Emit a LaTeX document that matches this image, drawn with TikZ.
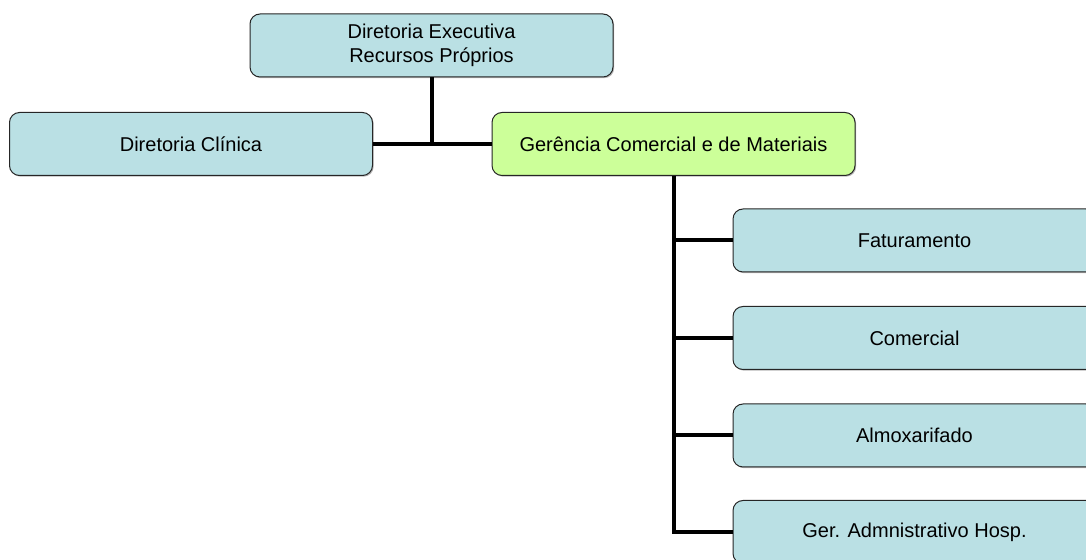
\documentclass[tikz,border=0pt]{standalone}
\usepackage{fontspec}
\setmainfont{Liberation Sans}
\usetikzlibrary{shadows}
\definecolor{boxblue}{RGB}{186,224,228}
\definecolor{boxgreen}{RGB}{204,255,153}
\begin{document}
\begin{tikzpicture}[
    x=0.5pt, y=-0.5pt,
    box/.style={rectangle, draw=black!85, line width=0.5pt, rounded corners=5pt, fill=boxblue,
        minimum width=181.5pt, minimum height=31.5pt, align=center, font=\fontsize{10}{12}\selectfont,
        drop shadow={shadow xshift=0.6pt, shadow yshift=-0.6pt, fill=black!35, opacity=0.8}},
    link/.style={line width=2pt}
]
\useasboundingbox (0,0) rectangle (1086,560);
\node[box] (dexec) at (431.5,45.5) {Diretoria Executiva\\Recursos Próprios};
\node[box] (dclin) at (191,144) {Diretoria Clínica};
\node[box, fill=boxgreen] (gcom) at (673.5,144) {Gerência Comercial e de Materiais};
\node[box] (fat) at (914.5,240.5) {Faturamento};
\node[box] (com) at (914.5,338) {Comercial};
\node[box] (alm) at (914.5,435.5) {Almoxarifado};
\node[box] (ger) at (914.5,532) {Ger. Admnistrativo Hosp.};

\draw[link] (dclin.east) -- (gcom.west);
\draw[link] (dexec.south) -- (dexec.south |- dclin.east);
\draw[link] (gcom.south) -- (gcom.south |- ger.west) -- (ger.west);
\draw[link] (gcom.south |- fat.west) -- (fat.west);
\draw[link] (gcom.south |- com.west) -- (com.west);
\draw[link] (gcom.south |- alm.west) -- (alm.west);
\end{tikzpicture}
\end{document}
